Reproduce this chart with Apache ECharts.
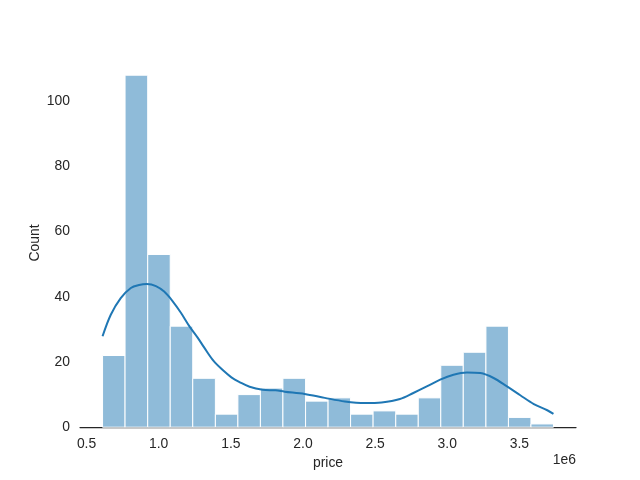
<!DOCTYPE html>
<html>
<head>
<meta charset="utf-8">
<script src="https://cdn.jsdelivr.net/npm/echarts@6/dist/echarts.min.js"></script>
<style>html,body{margin:0;padding:0;background:#fff}#c{width:640px;height:480px}</style>
</head>
<body>
<div id="c"></div>
<script>
// price in units of 1e6
var binEdges = [0.611, 0.767, 0.924, 1.080, 1.236, 1.393, 1.549, 1.705, 1.861, 2.018, 2.174,
                2.330, 2.486, 2.643, 2.799, 2.955, 3.111, 3.268, 3.424, 3.580, 3.736];
var counts = [22, 108, 53, 31, 15, 4, 10, 12, 15, 8, 9, 4, 5, 4, 9, 19, 23, 31, 3, 1];
var kdeX = [0.611, 0.668, 0.737, 0.807, 0.864, 0.918, 0.981, 1.038, 1.096, 1.154, 1.212, 1.270,
            1.316, 1.379, 1.442, 1.504, 1.567, 1.630, 1.720, 1.810, 1.873, 2.012, 2.151, 2.290,
            2.429, 2.545, 2.672, 2.765, 2.858, 2.951, 3.043, 3.136, 3.229, 3.321, 3.414, 3.506,
            3.600, 3.693, 3.736];
var kdeY = [27.9, 34.5, 39.6, 42.7, 43.6, 43.9, 43.3, 41.6, 38.7, 35.1, 31.0, 27.5,
            24.4, 20.4, 17.6, 15.3, 13.7, 12.4, 11.5, 11.3, 10.9, 10.2, 9.0, 7.9,
            7.4, 7.6, 8.65, 10.5, 12.5, 14.6, 16.1, 16.8, 16.6, 15.1, 12.5, 9.8,
            7.1, 5.2, 4.1];
var xTicks = [0.5, 1.0, 1.5, 2.0, 2.5, 3.0, 3.5];
var yTicks = [0, 20, 40, 60, 80, 100];

var barData = counts.map(function (c, i) { return [binEdges[i], binEdges[i + 1], c]; });
var kdeData = kdeX.map(function (x, i) { return [x, kdeY[i]]; });

var txt = '#262626';
var font = 'Liberation Sans, Arial, sans-serif';
var chart = echarts.init(document.getElementById('c'), null, {renderer: 'canvas'});
chart.setOption({
  animation: false,
  backgroundColor: '#ffffff',
  grid: {left: 80, right: 64, top: 57.6, bottom: 52.8, containLabel: false},
  xAxis: {
    type: 'value', min: 0.4547, max: 3.8922,
    name: 'price', nameLocation: 'middle', nameGap: 28,
    nameTextStyle: {color: txt, fontSize: 13.9, fontFamily: font},
    axisLine: {show: true, lineStyle: {color: txt, width: 1.25}},
    axisTick: {show: false},
    splitLine: {show: false},
    axisLabel: {customValues: xTicks, color: txt, fontSize: 13.9, fontFamily: font, margin: 10,
      formatter: function (v) { return v.toFixed(1); }}
  },
  yAxis: {
    type: 'value', min: 0, max: 113.4,
    axisLine: {show: false},
    axisTick: {show: false},
    splitLine: {show: false},
    axisLabel: {customValues: yTicks, color: txt, fontSize: 13.9, fontFamily: font, margin: 10}
  },
  graphic: [{
    type: 'text', right: 64, top: 453,
    style: {text: '1e6', fill: txt, font: '13.9px ' + font}
  }, {
    type: 'text', x: 35, y: 243, rotation: Math.PI / 2,
    style: {text: 'Count', fill: txt, font: '13.9px ' + font, align: 'center', verticalAlign: 'middle'}
  }],
  series: [{
    type: 'custom',
    data: barData,
    encode: {x: [0, 1], y: 2},
    renderItem: function (params, api) {
      var p0 = api.coord([api.value(0), api.value(2)]);
      var p1 = api.coord([api.value(1), 0]);
      return {
        type: 'rect',
        shape: {x: p0[0], y: p0[1], width: p1[0] - p0[0], height: p1[1] - p0[1]},
        style: {fill: '#8fbbd9', stroke: '#ffffff', lineWidth: 1}
      };
    },
    z: 1
  }, {
    type: 'line',
    data: kdeData,
    smooth: 0.33,
    showSymbol: false,
    lineStyle: {color: '#1f77b4', width: 2},
    z: 3
  }]
});
</script>
</body>
</html>
